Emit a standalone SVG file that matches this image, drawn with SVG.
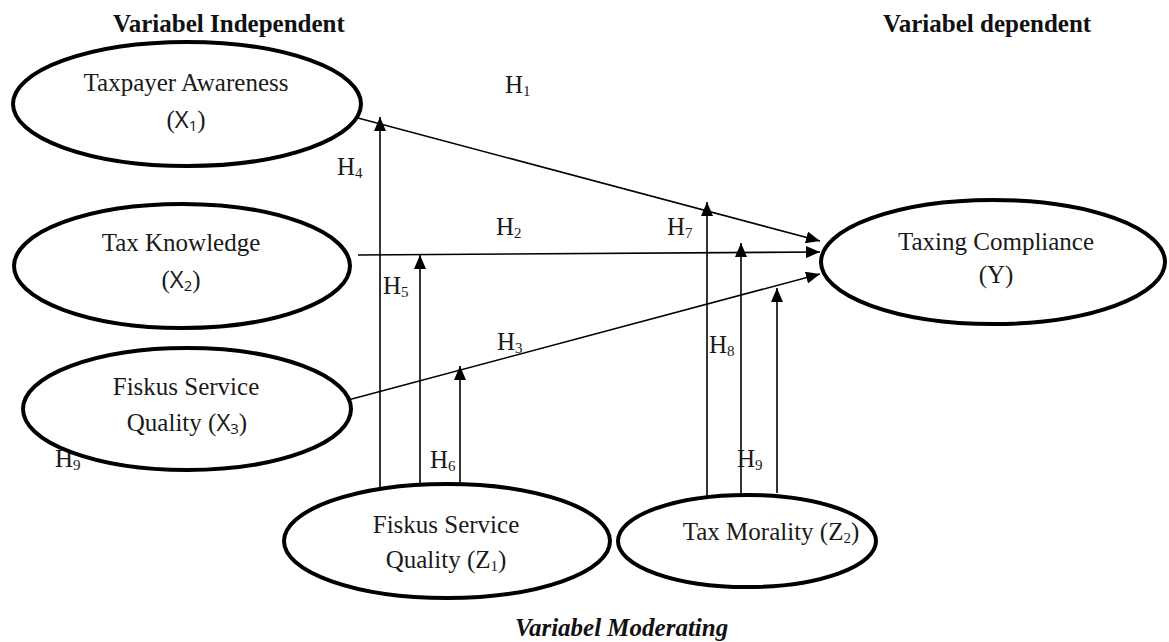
<svg xmlns="http://www.w3.org/2000/svg" width="1169" height="642" viewBox="0 0 1169 642">
  <style>
    .node { fill: #ffffff; stroke: #000000; stroke-width: 4; }
    .lbl { font-family: "Liberation Serif", "Times New Roman", serif; font-size: 25px; fill: #1a1a1a; text-anchor: middle; }
    .hd { font-family: "Liberation Serif", "Times New Roman", serif; font-size: 25px; font-weight: bold; fill: #111111; }
    .hyp { font-family: "Liberation Serif", "Times New Roman", serif; font-size: 25px; fill: #1a1a1a; }
    .sub { font-size: 15px; }
    .sans { font-family: "Open Sans", "DejaVu Sans", sans-serif; font-size: 24px; }
    .sans.sub { font-size: 15px; }
    .conn { stroke: #000000; stroke-width: 1.6; fill: none; marker-end: url(#arrow); }
  </style>
  <defs>
    <marker id="arrow" markerUnits="userSpaceOnUse" markerWidth="14" markerHeight="12" refX="14" refY="6" orient="auto">
      <path d="M0,0 L14,6 L0,12 Z" fill="#000000"/>
    </marker>
  </defs>

  <rect width="1169" height="642" fill="#ffffff"/>

  <!-- section headings -->
  <text class="hd" x="113" y="32">Variabel Independent</text>
  <text class="hd" x="883" y="32">Variabel dependent</text>
  <text class="hd" x="515" y="636" font-style="italic">Variabel Moderating</text>

  <!-- connectors -->
  <g id="connectors">
    <line class="conn" x1="358" y1="118" x2="820" y2="241"/>
    <line class="conn" x1="358" y1="255" x2="820" y2="252"/>
    <line class="conn" x1="348" y1="400" x2="820" y2="274"/>
    <line class="conn" x1="380" y1="487" x2="380" y2="117"/>
    <line class="conn" x1="420" y1="487" x2="420" y2="255"/>
    <line class="conn" x1="460" y1="486" x2="460" y2="366"/>
    <line class="conn" x1="707" y1="497" x2="707" y2="202"/>
    <line class="conn" x1="741" y1="494" x2="741" y2="243"/>
    <line class="conn" x1="777" y1="493" x2="777" y2="288"/>
  </g>

  <!-- hypothesis labels -->
  <g id="hypotheses">
    <text class="hyp" x="505" y="93">H<tspan class="sub" dy="3">1</tspan></text>
    <text class="hyp" x="337" y="175">H<tspan class="sub" dy="3">4</tspan></text>
    <text class="hyp" x="496" y="235">H<tspan class="sub" dy="3">2</tspan></text>
    <text class="hyp" x="667" y="235">H<tspan class="sub" dy="3">7</tspan></text>
    <text class="hyp" x="383" y="294">H<tspan class="sub" dy="3">5</tspan></text>
    <text class="hyp" x="497" y="350">H<tspan class="sub" dy="3">3</tspan></text>
    <text class="hyp" x="709" y="353">H<tspan class="sub" dy="3">8</tspan></text>
    <text class="hyp" x="430" y="468">H<tspan class="sub" dy="3">6</tspan></text>
    <text class="hyp" x="737" y="467">H<tspan class="sub" dy="3">9</tspan></text>
    <text class="hyp" x="55" y="467">H<tspan class="sub" dy="3">9</tspan></text>
  </g>

  <!-- independent variables -->
  <g id="x1">
    <ellipse class="node" cx="187" cy="104" rx="174" ry="62"/>
    <text class="lbl" x="186" y="91">Taxpayer Awareness</text>
    <text class="lbl" x="186" y="128">(<tspan class="sans">X</tspan><tspan class="sans sub" dy="3">1</tspan><tspan dy="-3">)</tspan></text>
  </g>
  <g id="x2">
    <ellipse class="node" cx="182" cy="266" rx="168" ry="62"/>
    <text class="lbl" x="181" y="251">Tax Knowledge</text>
    <text class="lbl" x="181" y="288">(<tspan class="sans">X</tspan><tspan class="sans sub" dy="3">2</tspan><tspan dy="-3">)</tspan></text>
  </g>
  <g id="x3">
    <ellipse class="node" cx="187" cy="409" rx="164" ry="61"/>
    <text class="lbl" x="186" y="395">Fiskus Service</text>
    <text class="lbl" x="187" y="431">Quality (<tspan class="sans">X</tspan><tspan class="sans sub" dy="3">3</tspan><tspan dy="-3">)</tspan></text>
  </g>

  <!-- dependent variable -->
  <g id="y">
    <ellipse class="node" cx="993" cy="262" rx="172" ry="62"/>
    <text class="lbl" x="996" y="250">Taxing Compliance</text>
    <text class="lbl" x="996" y="283">(Y)</text>
  </g>

  <!-- moderating variables -->
  <g id="z1">
    <ellipse class="node" cx="447" cy="541" rx="163" ry="57"/>
    <text class="lbl" x="446" y="533">Fiskus Service</text>
    <text class="lbl" x="446" y="568">Quality (Z<tspan class="sub" dy="3">1</tspan><tspan dy="-3">)</tspan></text>
  </g>
  <g id="z2">
    <ellipse class="node" cx="747" cy="541" rx="129" ry="46"/>
    <text class="lbl" x="771" y="540">Tax Morality (Z<tspan class="sub" dy="3">2</tspan><tspan dy="-3">)</tspan></text>
  </g>
</svg>
